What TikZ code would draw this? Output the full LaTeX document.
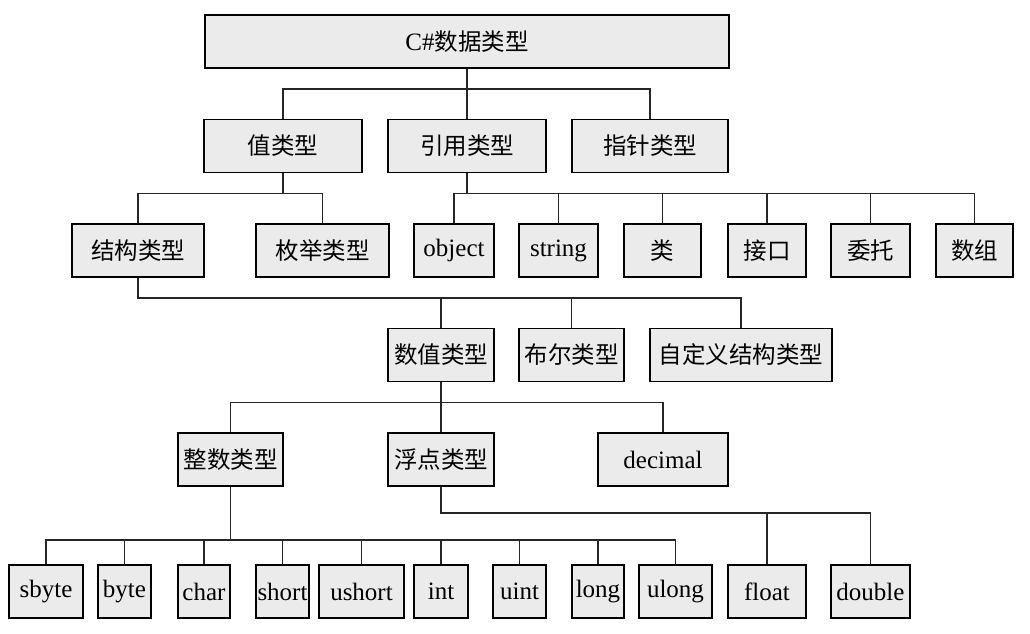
\documentclass[tikz,border=0pt]{standalone}
\usepackage{fontspec}
\setmainfont{Liberation Serif}
\newfontfamily\cjk{Noto Sans CJK SC}
\definecolor{boxfill}{HTML}{EBEBEB}
\begin{document}
\begin{tikzpicture}[x=1pt,y=-1pt,
  bx/.style={draw=black, line width=1.7pt, fill=boxfill, minimum height=53pt, inner sep=0pt, font=\fontsize{25}{28}\selectfont},
  cj/.style={bx, font=\fontsize{23.5}{28}\selectfont\cjk},
  conn/.style={line width=1.4pt, draw=black!85}]
\useasboundingbox (0,0) rectangle (1030,633);
% level 1
\node[bx, minimum width=524pt] (root) at (467,41.5) {C\#{\cjk\fontsize{23.5}{28}\selectfont 数据类型}};
% level 2
\node[cj, minimum width=158pt] (zhi) at (283,146) {值类型};
\node[cj, minimum width=158pt] (yin) at (467,146) {引用类型};
\node[cj, minimum width=156pt] (zhen) at (650,146) {指针类型};
% level 3
\node[cj, minimum width=132pt] (jg) at (138,250.5) {结构类型};
\node[cj, minimum width=133pt] (mj) at (322.5,250.5) {枚举类型};
\node[bx, minimum width=80pt] (obj) at (454,250.5) {object};
\node[bx, minimum width=79pt] (str) at (558.5,250.5) {string};
\node[cj, minimum width=77pt] (lei) at (662.5,250.5) {类};
\node[cj, minimum width=78pt] (jk) at (767,250.5) {接口};
\node[cj, minimum width=79pt] (wt) at (870.5,250.5) {委托};
\node[cj, minimum width=77pt] (sz) at (974.5,250.5) {数组};
% level 4
\node[cj, minimum width=106pt] (sv) at (441,355) {数值类型};
\node[cj, minimum width=105pt] (be) at (571.5,355) {布尔类型};
\node[cj, minimum width=182pt] (zd) at (741,355) {自定义结构类型};
% level 5
\node[cj, minimum width=105pt] (zs) at (230.5,459.5) {整数类型};
\node[cj, minimum width=106pt] (fd) at (441,459.5) {浮点类型};
\node[bx, minimum width=130pt] (dec) at (663,459.5) {decimal};
% level 6
\node[bx, minimum width=74pt] (sbyte) at (46,591.5) {sbyte};
\node[bx, minimum width=53pt] (byte) at (124.5,591.5) {byte};
\node[bx, minimum width=52pt] (char) at (204,591.5) {char};
\node[bx, minimum width=53pt] (short) at (282.5,591.5) {short};
\node[bx, minimum width=85pt] (ushort) at (361.5,591.5) {ushort};
\node[bx, minimum width=54pt] (int) at (441,591.5) {int};
\node[bx, minimum width=53pt] (uint) at (519.5,591.5) {uint};
\node[bx, minimum width=52pt] (long) at (598,591.5) {long};
\node[bx, minimum width=73pt] (ulong) at (675.5,591.5) {ulong};
\node[bx, minimum width=78pt] (float) at (767,591.5) {float};
\node[bx, minimum width=79pt] (double) at (870.5,591.5) {double};
% connectors
\foreach \c in {zhi,yin,zhen} \draw[conn] (root.south) -- ++(0,20) -| (\c.north);
\foreach \c in {jg,mj} \draw[conn] (zhi.south) -- ++(0,20) -| (\c.north);
\foreach \c in {obj,str,lei,jk,wt,sz} \draw[conn] (yin.south) -- ++(0,20) -| (\c.north);
\foreach \c in {sv,be,zd} \draw[conn] (jg.south) -- ++(0,20) -| (\c.north);
\foreach \c in {zs,fd,dec} \draw[conn] (sv.south) -- ++(0,20) -| (\c.north);
\foreach \c in {sbyte,byte,char,short,ushort,int,uint,long,ulong} \draw[conn] (zs.south) -- ++(0,53) -| (\c.north);
\foreach \c in {float,double} \draw[conn] (fd.south) -- ++(0,26) -| (\c.north);
\end{tikzpicture}
\end{document}
